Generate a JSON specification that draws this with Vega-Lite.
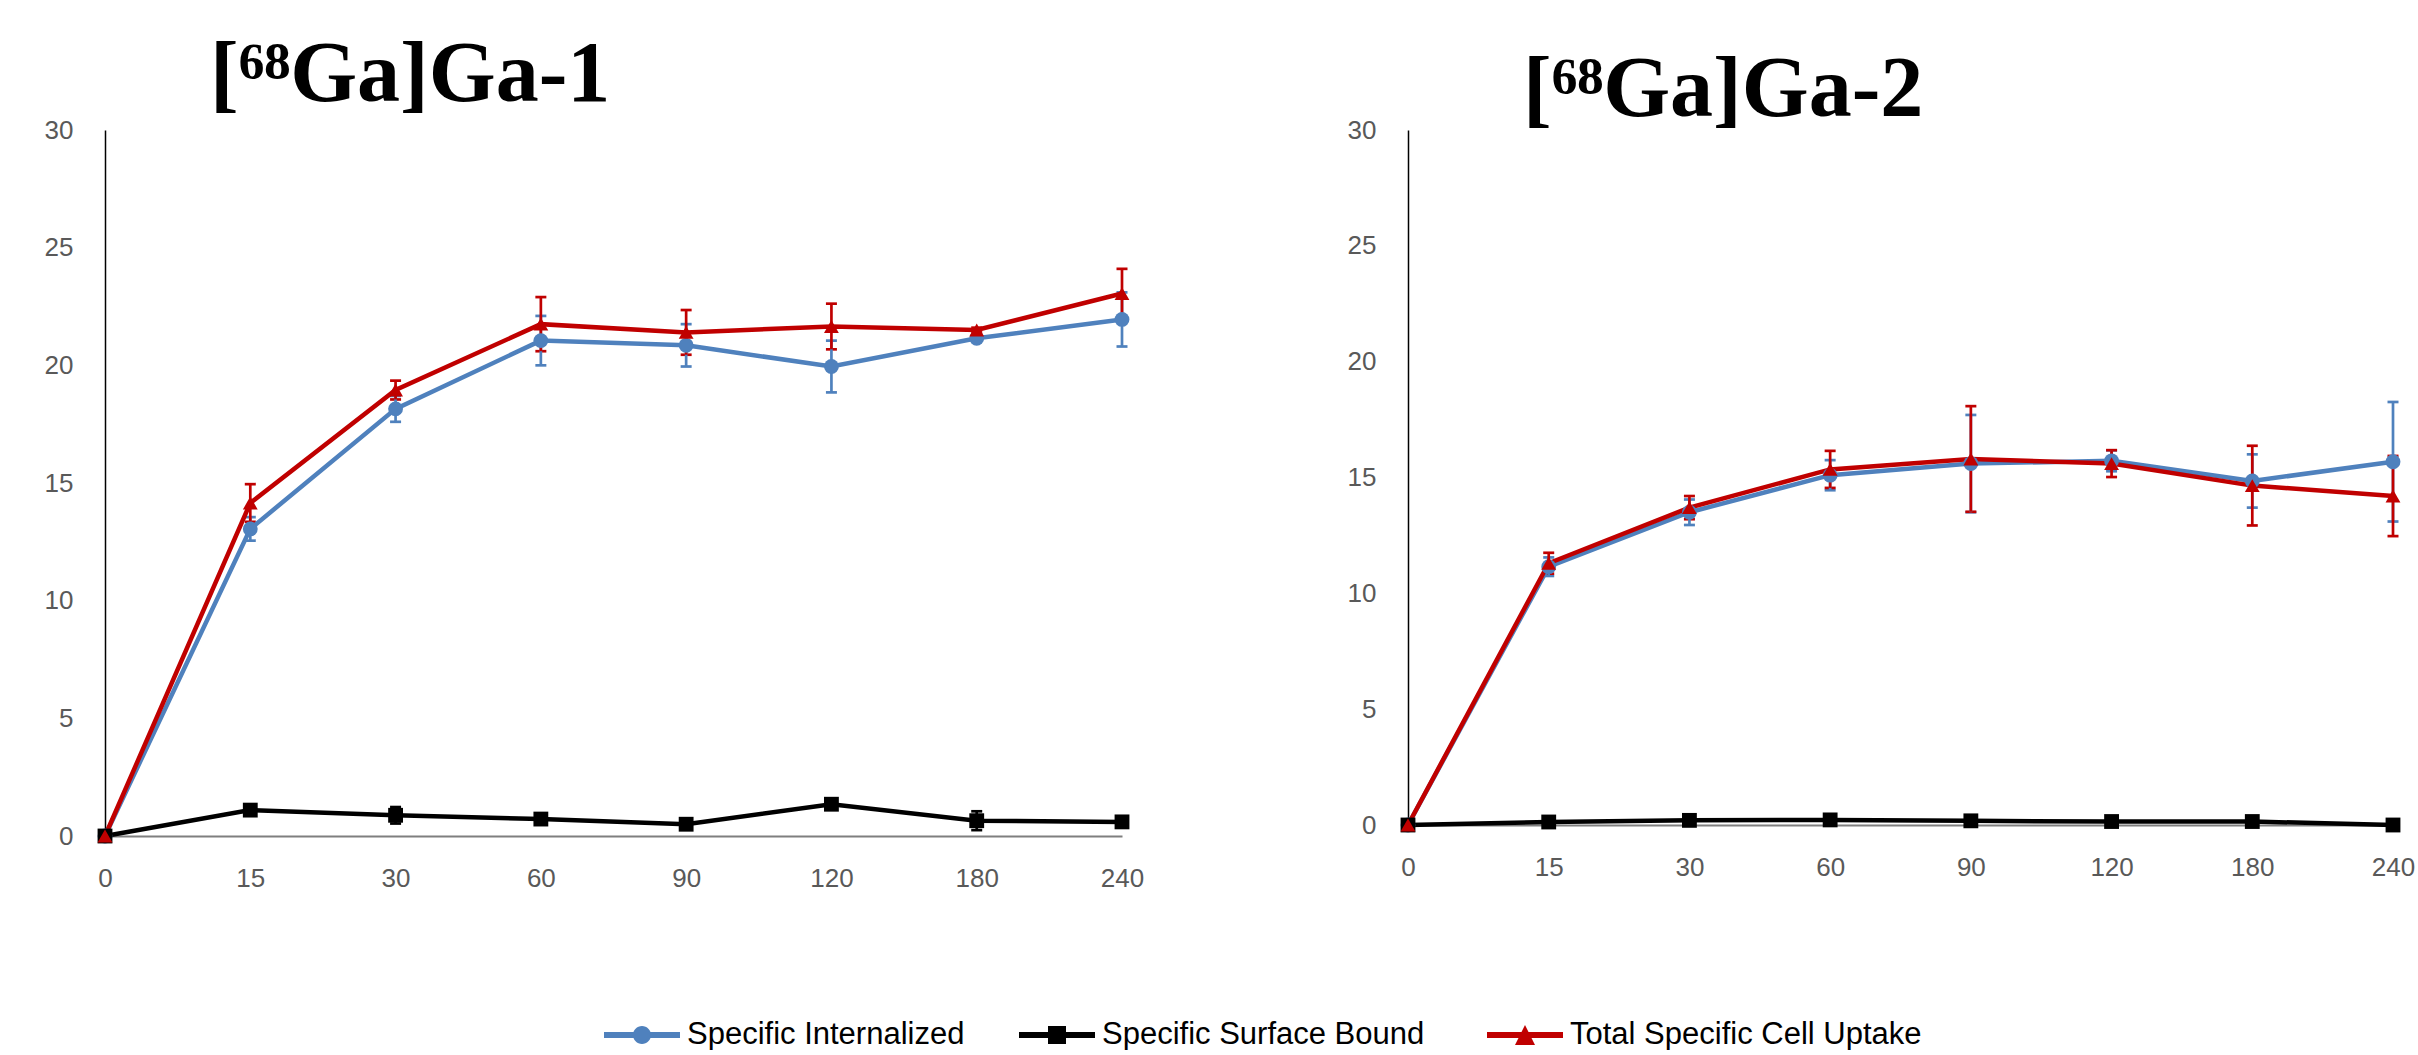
{
  "$schema": "https://vega.github.io/schema/vega-lite/v6.json",
  "background": "white",
  "padding": {"left": 44, "top": 32, "right": 0, "bottom": 0},
  "bounds": "flush",
  "spacing": 286,
  "config": {
    "view": {"stroke": null},
    "point": {"opacity": 1},
    "tick": {"opacity": 1},
    "legend": {"symbolOpacity": 1},
    "axis": {"labelFont": "Liberation Sans", "labelFontSize": 26, "labelColor": "#595959", "ticks": false, "grid": false},
    "title": {"font": "Liberation Serif", "fontWeight": "bold", "fontSize": 86, "color": "black", "anchor": "start", "baseline": "alphabetic", "frame": "group"}
  },
  "datasets": {
    "ga1": [
      {"time": 0, "series": "Specific Internalized", "value": 0, "err": 0},
      {"time": 15, "series": "Specific Internalized", "value": 13.05, "err": 0.5},
      {"time": 30, "series": "Specific Internalized", "value": 18.15, "err": 0.55},
      {"time": 60, "series": "Specific Internalized", "value": 21.05, "err": 1.05},
      {"time": 90, "series": "Specific Internalized", "value": 20.85, "err": 0.9},
      {"time": 120, "series": "Specific Internalized", "value": 19.95, "err": 1.1},
      {"time": 180, "series": "Specific Internalized", "value": 21.15, "err": 0.1},
      {"time": 240, "series": "Specific Internalized", "value": 21.95, "err": 1.15},
      {"time": 0, "series": "Specific Surface  Bound", "value": 0, "err": 0},
      {"time": 15, "series": "Specific Surface  Bound", "value": 1.1, "err": 0.1},
      {"time": 30, "series": "Specific Surface  Bound", "value": 0.88, "err": 0.35},
      {"time": 60, "series": "Specific Surface  Bound", "value": 0.72, "err": 0.1},
      {"time": 90, "series": "Specific Surface  Bound", "value": 0.5, "err": 0.1},
      {"time": 120, "series": "Specific Surface  Bound", "value": 1.35, "err": 0.1},
      {"time": 180, "series": "Specific Surface  Bound", "value": 0.65, "err": 0.4},
      {"time": 240, "series": "Specific Surface  Bound", "value": 0.6, "err": 0.1},
      {"time": 0, "series": "Total Specific Cell Uptake", "value": 0, "err": 0},
      {"time": 15, "series": "Total Specific Cell Uptake", "value": 14.15, "err": 0.8},
      {"time": 30, "series": "Total Specific Cell Uptake", "value": 18.95, "err": 0.4},
      {"time": 60, "series": "Total Specific Cell Uptake", "value": 21.75, "err": 1.15},
      {"time": 90, "series": "Total Specific Cell Uptake", "value": 21.4, "err": 0.95},
      {"time": 120, "series": "Total Specific Cell Uptake", "value": 21.65, "err": 0.97},
      {"time": 180, "series": "Total Specific Cell Uptake", "value": 21.5, "err": 0.1},
      {"time": 240, "series": "Total Specific Cell Uptake", "value": 23.05, "err": 1.05}
    ],
    "ga2": [
      {"time": 0, "series": "Specific Internalized", "value": 0, "err": 0},
      {"time": 15, "series": "Specific Internalized", "value": 11.15, "err": 0.4},
      {"time": 30, "series": "Specific Internalized", "value": 13.5, "err": 0.55},
      {"time": 60, "series": "Specific Internalized", "value": 15.1, "err": 0.65},
      {"time": 90, "series": "Specific Internalized", "value": 15.6, "err": 2.1},
      {"time": 120, "series": "Specific Internalized", "value": 15.72, "err": 0.45},
      {"time": 180, "series": "Specific Internalized", "value": 14.85, "err": 1.15},
      {"time": 240, "series": "Specific Internalized", "value": 15.68, "err": 2.58},
      {"time": 0, "series": "Specific Surface  Bound", "value": 0, "err": 0},
      {"time": 15, "series": "Specific Surface  Bound", "value": 0.13, "err": 0.05},
      {"time": 30, "series": "Specific Surface  Bound", "value": 0.2, "err": 0.05},
      {"time": 60, "series": "Specific Surface  Bound", "value": 0.22, "err": 0.05},
      {"time": 90, "series": "Specific Surface  Bound", "value": 0.18, "err": 0.05},
      {"time": 120, "series": "Specific Surface  Bound", "value": 0.15, "err": 0.05},
      {"time": 180, "series": "Specific Surface  Bound", "value": 0.15, "err": 0.05},
      {"time": 240, "series": "Specific Surface  Bound", "value": 0.0, "err": 0.05},
      {"time": 0, "series": "Total Specific Cell Uptake", "value": 0, "err": 0},
      {"time": 15, "series": "Total Specific Cell Uptake", "value": 11.3, "err": 0.45},
      {"time": 30, "series": "Total Specific Cell Uptake", "value": 13.7, "err": 0.5},
      {"time": 60, "series": "Total Specific Cell Uptake", "value": 15.35, "err": 0.8},
      {"time": 90, "series": "Total Specific Cell Uptake", "value": 15.8, "err": 2.28},
      {"time": 120, "series": "Total Specific Cell Uptake", "value": 15.6, "err": 0.58},
      {"time": 180, "series": "Total Specific Cell Uptake", "value": 14.65, "err": 1.72},
      {"time": 240, "series": "Total Specific Cell Uptake", "value": 14.2, "err": 1.73}
    ]
  },
  "resolve": {"scale": {"x": "independent", "y": "independent", "color": "shared"}},
  "hconcat": [
    {
      "width": 1017,
      "height": 706,
      "data": {"name": "ga1"},
      "title": {"text": "[⁶⁸Ga]Ga-1", "dx": 105, "offset": -2},
      "encoding": {
        "x": {"field": "time", "type": "ordinal", "title": null, "scale": {"type": "point", "padding": 0}, "axis": {"title": null, "labelAngle": 0, "labelPadding": 29, "domainColor": "#7f7f7f", "domainWidth": 2}},
        "y": {"field": "value", "type": "quantitative", "title": null, "scale": {"domain": [0, 30], "nice": false}, "axis": {"title": null, "values": [0, 5, 10, 15, 20, 25, 30], "labelPadding": 32, "domainColor": "black", "domainWidth": 1.5}},
        "color": {"field": "series", "type": "nominal", "scale": {"domain": ["Specific Internalized", "Specific Surface  Bound", "Total Specific Cell Uptake"], "range": ["#4f81bd", "#000000", "#c00000"]},
          "legend": {"title": null, "orient": "none", "legendX": 517, "legendY": 885, "padding": 0, "direction": "horizontal", "columns": 3, "columnPadding": 54, "labelFont": "Liberation Sans", "labelFontSize": 31, "labelColor": "black", "labelLimit": 600, "labelOffset": 25, "symbolSize": 1600, "symbolStrokeWidth": 0, "symbolOpacity": 1,
            "symbolType": {"expr": "datum.value === 'Specific Internalized' ? 'M-1.9,-0.15H1.9V0.15H-1.9ZM0.45,0A0.45,0.45,0,1,1,-0.45,0A0.45,0.45,0,1,1,0.45,0Z' : (datum.value === 'Total Specific Cell Uptake' ? 'M-1.9,-0.15H1.9V0.15H-1.9ZM0,-0.5L0.5,0.5H-0.5Z' : 'M-1.9,-0.15H1.9V0.15H-1.9ZM-0.45,-0.45H0.45V0.45H-0.45Z')"}}}
      },
      "layer": [
        {"mark": {"type": "errorbar", "ticks": {"size": 11, "thickness": 2.7, "opacity": 1}, "thickness": 2.7, "opacity": 1}, "encoding": {"yError": {"field": "err"}}},
        {"mark": {"type": "line", "strokeWidth": 4.5, "opacity": 1}},
        {"mark": {"type": "point", "filled": true, "opacity": 1, "size": 220},
         "encoding": {
           "shape": {"condition": [{"test": "datum.series === 'Specific Internalized'", "value": "circle"}, {"test": "datum.series === 'Total Specific Cell Uptake'", "value": "triangle-up"}], "value": "square"}}}
      ]
    },
    {
      "width": 985,
      "height": 695,
      "data": {"name": "ga2"},
      "title": {"text": "[⁶⁸Ga]Ga-2", "dx": 115, "offset": -17},
      "encoding": {
        "x": {"field": "time", "type": "ordinal", "title": null, "scale": {"type": "point", "padding": 0}, "axis": {"title": null, "labelAngle": 0, "labelPadding": 29, "domainColor": "#7f7f7f", "domainWidth": 2}},
        "y": {"field": "value", "type": "quantitative", "title": null, "scale": {"domain": [0, 30], "nice": false}, "axis": {"title": null, "values": [0, 5, 10, 15, 20, 25, 30], "labelPadding": 32, "domainColor": "black", "domainWidth": 1.5}},
        "color": {"field": "series", "type": "nominal"}
      },
      "layer": [
        {"mark": {"type": "errorbar", "ticks": {"size": 11, "thickness": 2.7, "opacity": 1}, "thickness": 2.7, "opacity": 1}, "encoding": {"yError": {"field": "err"}}},
        {"mark": {"type": "line", "strokeWidth": 4.5, "opacity": 1}},
        {"mark": {"type": "point", "filled": true, "opacity": 1, "size": 220},
         "encoding": {
           "shape": {"condition": [{"test": "datum.series === 'Specific Internalized'", "value": "circle"}, {"test": "datum.series === 'Total Specific Cell Uptake'", "value": "triangle-up"}], "value": "square"}}}
      ]
    }
  ]
}
